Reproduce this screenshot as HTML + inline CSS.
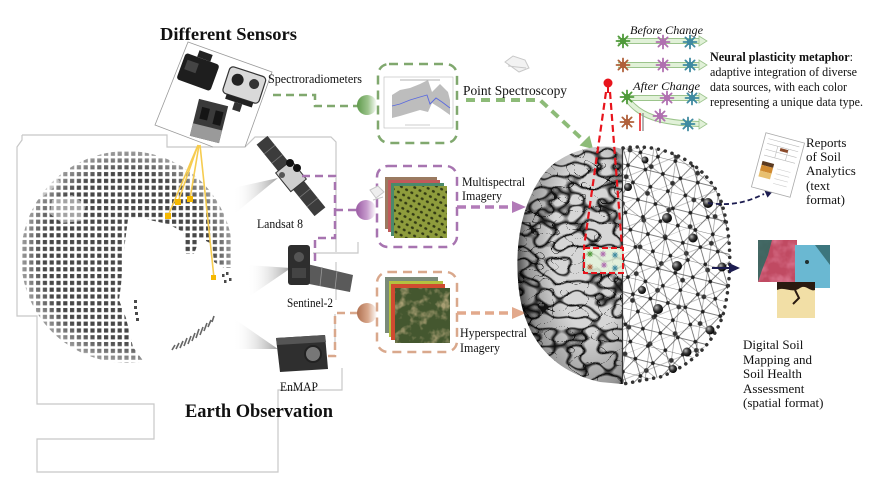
<!DOCTYPE html>
<html><head><meta charset="utf-8">
<style>
html,body{margin:0;padding:0;background:#fff;}
svg{display:block;}
text{font-family:"Liberation Serif","Times New Roman",serif;fill:#111;}
</style></head><body>
<svg width="881" height="484" viewBox="0 0 881 484" xmlns="http://www.w3.org/2000/svg">
<defs>
  <pattern id="gd" width="6.8" height="6.8" patternUnits="userSpaceOnUse" x="1" y="1">
    <rect x="1" y="1" width="4.2" height="4.2" fill="#474747"/>
  </pattern>
  <clipPath id="gc"><circle cx="127" cy="257" r="106"/></clipPath>
  <radialGradient id="gfade" cx="127" cy="257" r="106" gradientUnits="userSpaceOnUse">
    <stop offset="0" stop-color="#fff"/><stop offset="0.8" stop-color="#fff"/><stop offset="1" stop-color="#888"/>
  </radialGradient>
  <mask id="gm"><circle cx="127" cy="257" r="106" fill="url(#gfade)"/></mask>

  <linearGradient id="cone" x1="0" y1="0" x2="1" y2="0">
    <stop offset="0" stop-color="#fff" stop-opacity="0"/><stop offset="1" stop-color="#8a8a8a"/>
  </linearGradient>

  <linearGradient id="cg" x1="0" y1="0" x2="1" y2="0"><stop offset="0" stop-color="#5f9a4c"/><stop offset="0.55" stop-color="#9cc48c"/><stop offset="1" stop-color="#fff"/></linearGradient>
  <linearGradient id="cp" x1="0" y1="0" x2="1" y2="0"><stop offset="0" stop-color="#9a5aa3"/><stop offset="0.55" stop-color="#c79ccd"/><stop offset="1" stop-color="#fff"/></linearGradient>
  <linearGradient id="co" x1="0" y1="0" x2="1" y2="0"><stop offset="0" stop-color="#b07050"/><stop offset="0.55" stop-color="#d9a88c"/><stop offset="1" stop-color="#fff"/></linearGradient>

  <clipPath id="brL"><path d="M622,149 C600,142 565,150 545,172 C523,200 515,240 518,280 C521,330 546,370 600,382 L622,384 Z"/></clipPath>
  <clipPath id="brR"><path d="M623,148 C665,142 705,163 720,198 C733,235 732,280 723,315 C713,345 690,366 660,377 L623,384 Z"/></clipPath>

  <filter id="bf" filterUnits="userSpaceOnUse" x="510" y="140" width="120" height="250" color-interpolation-filters="sRGB">
    <feTurbulence type="turbulence" baseFrequency="0.065 0.085" numOctaves="1" seed="11"/>
    <feColorMatrix type="matrix" values="5.5 0 0 0 0.1  5.5 0 0 0 0.1  5.5 0 0 0 0.1  0 0 0 0 1"/>
    <feComponentTransfer>
      <feFuncR type="linear" slope="0.84"/><feFuncG type="linear" slope="0.84"/><feFuncB type="linear" slope="0.84"/>
    </feComponentTransfer>
  </filter>
  <radialGradient id="bsh" cx="0.7" cy="0.42" r="0.72">
    <stop offset="0.5" stop-color="#000" stop-opacity="0"/>
    <stop offset="0.85" stop-color="#000" stop-opacity="0.3"/>
    <stop offset="1" stop-color="#000" stop-opacity="0.7"/>
  </radialGradient>

  <pattern id="net1" width="18" height="31" patternUnits="userSpaceOnUse" patternTransform="translate(623 148) rotate(14)">
    <path d="M0,0H18M0,15.5H18M0,0L18,31M18,0L0,31" stroke="#555" stroke-width="0.7" fill="none"/>
    <circle cx="0" cy="0" r="1.9" fill="#222"/><circle cx="18" cy="0" r="1.9" fill="#222"/>
    <circle cx="0" cy="31" r="1.9" fill="#222"/><circle cx="18" cy="31" r="1.9" fill="#222"/>
    <circle cx="9" cy="15.5" r="1.9" fill="#222"/>
  </pattern>
  <pattern id="net2" width="27" height="46.8" patternUnits="userSpaceOnUse" patternTransform="translate(630 150) rotate(-22)">
    <path d="M0,0H27M0,23.4H27M0,0L27,46.8M27,0L0,46.8" stroke="#888" stroke-width="0.6" fill="none"/>
    <circle cx="13.5" cy="23.4" r="2.4" fill="#333"/>
    <circle cx="0" cy="0" r="2.4" fill="#333"/><circle cx="27" cy="0" r="2.4" fill="#333"/>
    <circle cx="0" cy="46.8" r="2.4" fill="#333"/><circle cx="27" cy="46.8" r="2.4" fill="#333"/>
  </pattern>
  <radialGradient id="sph" cx="0.35" cy="0.35" r="0.7"><stop offset="0" stop-color="#bbb"/><stop offset="0.5" stop-color="#333"/><stop offset="1" stop-color="#000"/></radialGradient>

  <pattern id="orch" width="6" height="6" patternUnits="userSpaceOnUse" patternTransform="rotate(30)">
    <rect width="6" height="6" fill="#8e9c3c"/><ellipse cx="3" cy="3" rx="1.6" ry="1.3" fill="#323a14"/>
  </pattern>
  <filter id="hf" x="0" y="0" width="1" height="1" color-interpolation-filters="sRGB">
    <feTurbulence type="fractalNoise" baseFrequency="0.1" numOctaves="3" seed="4"/>
    <feColorMatrix type="matrix" values="0 0 0 0 0.66  0 0 0 0 0.62  0 0 0 0 0.45  3.2 0 0 0 -1.6"/>
  </filter>
  <filter id="mf1" x="0" y="0" width="1" height="1" color-interpolation-filters="sRGB">
    <feTurbulence type="fractalNoise" baseFrequency="0.08" numOctaves="3" seed="9"/>
    <feColorMatrix type="matrix" values="0 0 0 0 0.85  0 0 0 0 0.45  0 0 0 0 0.55  2.5 0 0 0 -1.0"/>
  </filter>

  <g id="nr" fill="currentColor" stroke="currentColor">
    <circle r="3.2" stroke="none"/>
    <path d="M0,-6.5V6.5M-6.5,0H6.5M-4.6,-4.6L4.6,4.6M-4.6,4.6L4.6,-4.6" stroke-width="1.8" stroke-linecap="round" fill="none"/>
  </g>
</defs>

<rect width="881" height="484" fill="#fff"/>

<!-- frame outline -->
<path d="M22,135 H167 V147 H213 M245,147 L255,137 H331 L336,142 V252 M313,253 H358 V242 M336,262 V300 M335,314 V350 M342,368 V390 H278 V472 H37 V439 H154 V404 H37 V316 H17 V147 L22,140 V135" fill="none" stroke="#c8c8c8" stroke-width="1.2"/>

<!-- globe -->
<g clip-path="url(#gc)" mask="url(#gm)">
  <rect x="20" y="150" width="215" height="215" fill="url(#gd)"/>
  <polygon fill="#fff" points="140,218 168,224 183,232 186,254 194,254 200,238 212,244 214,262 224,268 245,268 245,370 150,370 133,347 126,318 119,300 121,285 124,250 128,219"/>
  <polygon fill="#fff" opacity="0.5" points="52,200 72,195 86,205 82,221 62,223 50,214"/>
  <polygon fill="#fff" opacity="0.45" points="25,178 50,168 60,182 45,195 30,205"/>
</g>
<g fill="#4a4a4a">
  <rect x="134" y="306" width="3" height="3"/><rect x="135" y="312" width="3" height="3"/><rect x="136" y="318" width="3" height="3"/><rect x="134" y="300" width="3" height="3"/>
  <rect x="222" y="274" width="2.5" height="3"/><rect x="226" y="272" width="2.5" height="3"/><rect x="224" y="280" width="2.5" height="3"/><rect x="229" y="278" width="2.5" height="3"/>
</g>
<path d="M172,350 l3,-5 M176,349 l3,-6 M180,348 l3,-7 M184,346 l3,-8 M188,344 l3,-8 M192,341 l3,-8 M196,338 l3,-9 M200,335 l3,-8 M204,331 l3,-8 M208,327 l3,-7 M212,322 l2,-6" stroke="#666" stroke-width="1.6"/>

<!-- cones -->
<polygon points="233,188 278,178 233,215" fill="url(#cone)" opacity="0.8"/>
<polygon points="247,265 291,268 250,296" fill="url(#cone)" opacity="0.8"/>
<polygon points="233,318 278,349 233,349" fill="url(#cone)" opacity="0.8"/>

<!-- sensor box -->
<polygon points="188,42 272,72 245,147 213,147 155,125" fill="#fff" stroke="#9a9a9a" stroke-width="0.8"/>
<g transform="translate(198,72) rotate(20)">
  <rect x="-18" y="-14" width="36" height="28" rx="3" fill="#1e1e1e"/>
  <rect x="-6" y="-21" width="14" height="7" fill="#222"/>
  <rect x="-14" y="-8" width="12" height="10" fill="#444"/>
</g>
<g transform="translate(244,86) rotate(18)">
  <rect x="-19" y="-15" width="38" height="28" rx="4" fill="#d9d9d9" stroke="#333" stroke-width="1.2"/>
  <circle cx="-8" cy="-4" r="6" fill="#222"/><circle cx="9" cy="-5" r="5" fill="#333"/>
  <rect x="-14" y="13" width="28" height="5" fill="#222"/>
  <rect x="-4" y="18" width="8" height="8" fill="#333"/>
</g>
<g transform="translate(209,121) rotate(14)">
  <rect x="-15" y="-19" width="30" height="38" fill="#3a3a3a"/>
  <rect x="-15" y="6" width="30" height="13" fill="#9a9a9a"/>
  <rect x="-10" y="-12" width="8" height="12" fill="#151515"/>
  <rect x="4" y="-12" width="8" height="14" fill="#151515"/>
</g>

<!-- yellow lines -->
<g stroke="#f6cc50" stroke-width="1.6" fill="none">
  <path d="M198,145 L168,216 M198,145 L178,202 M199,145 L190,199 M200,145 L214,278"/>
</g>
<g fill="#f5b800">
  <rect x="165" y="213" width="6" height="6"/><rect x="175" y="199" width="6" height="6"/>
  <rect x="187" y="196" width="6" height="6"/><rect x="211" y="275" width="5" height="5"/>
</g>

<!-- Landsat 8 -->
<g transform="translate(291,176) rotate(51)">
  <rect x="-46" y="-7" width="92" height="14" fill="#3c3c3c"/>
  <path d="M-34,-7V7M-22,-7V7M22,-7V7M34,-7V7" stroke="#777" stroke-width="0.8"/>
  <rect x="-12" y="-10" width="24" height="20" fill="#cfcfcf" stroke="#333" stroke-width="1"/>
</g>
<circle cx="290" cy="163" r="4" fill="#111"/><circle cx="297" cy="168" r="4" fill="#111"/>
<circle cx="282" cy="175" r="3" fill="#555"/>

<!-- Sentinel-2 -->
<polygon points="307,264 353,275 350,292 304,283" fill="#5a5a5a"/>
<path d="M322,267 L320,286 M337,271 L335,289" stroke="#999" stroke-width="0.8"/>
<rect x="288" y="245" width="22" height="40" rx="3" fill="#2e2e2e"/>
<circle cx="299" cy="257" r="5" fill="#555"/><rect x="292" y="268" width="14" height="10" fill="#444"/>

<!-- EnMAP -->
<polygon points="276,338 325,335 328,369 280,372" fill="#2f2f2f"/>
<polygon points="276,338 325,335 326,342 277,345" fill="#555"/>
<circle cx="313" cy="354" r="8" fill="#777" stroke="#222" stroke-width="2"/>

<!-- connectors from sensors -->
<path d="M273,95 H315 V106 H358" fill="none" stroke="#80a86e" stroke-width="2.5" stroke-dasharray="8 5"/>
<path d="M302,176 H335 V238 H315 V262 M335,210 H358" fill="none" stroke="#a774b0" stroke-width="2.5" stroke-dasharray="8 5"/>
<path d="M328,356 H335 V313 H358" fill="none" stroke="#d9a88c" stroke-width="2.5" stroke-dasharray="8 5"/>
<circle cx="367" cy="105" r="10" fill="url(#cg)"/>
<circle cx="366" cy="210" r="10" fill="url(#cp)"/>
<circle cx="367" cy="313" r="10" fill="url(#co)"/>

<!-- boxes -->
<rect x="378" y="64" width="79" height="79" rx="11" fill="none" stroke="#80a86e" stroke-width="2.5" stroke-dasharray="9 6"/>
<rect x="377" y="166" width="80" height="81" rx="11" fill="none" stroke="#a774b0" stroke-width="2.5" stroke-dasharray="9 6"/>
<rect x="377" y="272" width="80" height="80" rx="11" fill="none" stroke="#d9a88c" stroke-width="2.5" stroke-dasharray="9 6"/>

<!-- chart -->
<rect x="384" y="77" width="69" height="51" fill="#fff" stroke="#bbb" stroke-width="0.6"/>
<line x1="400" y1="80" x2="440" y2="80" stroke="#999" stroke-width="0.8"/>
<polygon points="392,95 400,90 410,88 420,84 428,80 432,92 440,84 448,92 450,100 450,115 440,108 432,103 428,112 420,110 410,113 400,116 392,118" fill="#bdbdbd"/>
<polyline points="392,106 400,104 410,100 420,97 427,95 430,104 436,98 442,102 450,108" fill="none" stroke="#5a6adf" stroke-width="0.9"/>
<line x1="405" y1="125" x2="430" y2="125" stroke="#999" stroke-width="0.6"/>

<!-- multispectral stack -->
<rect x="385" y="177" width="52" height="52" fill="#9a7a60"/>
<rect x="388" y="180" width="52" height="52" fill="#c05a5a"/>
<rect x="391" y="183" width="53" height="53" fill="#4a8a6a"/>
<rect x="394" y="186" width="53" height="52" fill="url(#orch)"/>
<path d="M370,190 l8,-4 l6,6 l-8,6 z M373,200 l10,-3" stroke="#c8c8c8" stroke-width="1" fill="#eee"/>

<!-- hyperspectral stack -->
<rect x="385" y="277" width="53" height="56" fill="#7a8a78"/>
<rect x="389" y="281" width="54" height="56" fill="#b4c040"/>
<rect x="391" y="284" width="54" height="56" fill="#d04a30"/>
<rect x="395" y="288" width="55" height="55" fill="#44572f"/>
<rect x="395" y="288" width="55" height="55" fill="#fff" filter="url(#hf)"/>

<!-- arrows to brain -->
<path d="M466,100 H540 L582,139" fill="none" stroke="#8dbb78" stroke-width="4" stroke-dasharray="9 6"/>
<polygon points="593,149 579.5,145.5 589.5,135.5" fill="#8dbb78"/>
<path d="M457,207 H513" stroke="#b27bb8" stroke-width="3.5" stroke-dasharray="9 5"/>
<polygon points="526,207 512,201 512,213" fill="#b27bb8"/>
<path d="M457,313 H513" stroke="#e2a98c" stroke-width="3.5" stroke-dasharray="9 5"/>
<polygon points="526,313 512,307 512,319" fill="#e2a98c"/>
<path d="M505,62 l8,-6 l12,4 l4,8 l-10,4 z M508,66 l18,2" stroke="#c8c8c8" stroke-width="1" fill="#f2f2f2"/>

<!-- brain left -->
<rect x="510" y="140" width="120" height="250" fill="#999" filter="url(#bf)" clip-path="url(#brL)"/>
<path d="M622,149 C600,142 565,150 545,172 C523,200 515,240 518,280 C521,330 546,370 600,382 L622,384 Z" fill="url(#bsh)"/>
<!-- brain right network -->
<g clip-path="url(#brR)">
  <rect x="620" y="140" width="120" height="250" fill="url(#net2)"/>
  <rect x="620" y="140" width="120" height="250" fill="url(#net1)"/>
</g>
<path d="M623,148 C665,142 705,163 720,198 C733,235 732,280 723,315 C713,345 690,366 660,377 L623,384" fill="none" stroke="#333" stroke-width="3.5" stroke-dasharray="0.1 7" stroke-linecap="round"/>
<line x1="622.5" y1="148" x2="622.5" y2="384" stroke="#333" stroke-width="1.2"/>
<g fill="url(#sph)">
  <circle cx="628" cy="187" r="4"/><circle cx="667" cy="218" r="5"/><circle cx="693" cy="238" r="4.5"/>
  <circle cx="708" cy="203" r="5"/><circle cx="677" cy="266" r="5"/><circle cx="722" cy="267" r="4.5"/>
  <circle cx="658" cy="309" r="5"/><circle cx="687" cy="352" r="4.5"/><circle cx="673" cy="369" r="4"/>
  <circle cx="642" cy="290" r="4"/><circle cx="710" cy="330" r="4.5"/><circle cx="645" cy="160" r="3.5"/>
</g>

<!-- red callout -->
<rect x="584" y="248" width="39" height="25" fill="#e4f4dc" opacity="0.85"/>
<g transform="translate(590,254) scale(0.45)" style="color:#4f9a3a"><use href="#nr"/></g>
<g transform="translate(603,254) scale(0.45)" style="color:#b070b0"><use href="#nr"/></g>
<g transform="translate(615,255) scale(0.45)" style="color:#3f8aa0"><use href="#nr"/></g>
<g transform="translate(590,267) scale(0.45)" style="color:#b0603a"><use href="#nr"/></g>
<g transform="translate(604,265) scale(0.45)" style="color:#b070b0"><use href="#nr"/></g>
<g transform="translate(615,268) scale(0.45)" style="color:#3f8aa0"><use href="#nr"/></g>
<rect x="584" y="248" width="39" height="25" fill="none" stroke="#e8141c" stroke-width="2" stroke-dasharray="6 3"/>
<path d="M606,92 L584,247 M610,92 L622,247" stroke="#e8141c" stroke-width="2.2" stroke-dasharray="7 4" fill="none"/>
<line x1="608" y1="84" x2="608" y2="93" stroke="#e8141c" stroke-width="2"/>
<circle cx="608" cy="83" r="4.5" fill="#e8141c"/>

<!-- neural plasticity diagram -->
<g fill="none" stroke-linecap="butt">
  <path d="M618,41 H700 M618,65 H700 M627,98 H700 M628,100 C640,116 660,123 700,124" stroke="#9cc48c" stroke-width="6"/>
  <path d="M618,41 H700 M618,65 H700 M627,98 H700 M628,100 C640,116 660,123 700,124" stroke="#e1f1d8" stroke-width="4"/>
</g>
<g fill="#e1f1d8" stroke="#9cc48c" stroke-width="0.8">
  <polygon points="707,41 699,36 699,46"/><polygon points="707,65 699,60 699,70"/>
  <polygon points="707,98 699,93 699,103"/><polygon points="707,124 699,119 699,129"/>
</g>
<g transform="translate(623,41)" style="color:#4f9a3a"><use href="#nr"/></g>
<g transform="translate(663,42)" style="color:#b070b0"><use href="#nr"/></g>
<g transform="translate(690,42)" style="color:#3f8aa0"><use href="#nr"/></g>
<g transform="translate(623,65)" style="color:#b0603a"><use href="#nr"/></g>
<g transform="translate(663,65)" style="color:#b070b0"><use href="#nr"/></g>
<g transform="translate(690,65)" style="color:#3f8aa0"><use href="#nr"/></g>
<g transform="translate(627,97)" style="color:#4f9a3a"><use href="#nr"/></g>
<g transform="translate(667,98)" style="color:#b070b0"><use href="#nr"/></g>
<g transform="translate(692,98)" style="color:#3f8aa0"><use href="#nr"/></g>
<g transform="translate(627,122)" style="color:#b0603a"><use href="#nr"/></g>
<g transform="translate(660,116)" style="color:#b070b0"><use href="#nr"/></g>
<g transform="translate(688,124)" style="color:#3f8aa0"><use href="#nr"/></g>
<line x1="640" y1="113" x2="640" y2="131" stroke="#e8141c" stroke-width="1.5"/>
<line x1="643" y1="113" x2="643" y2="131" stroke="#999" stroke-width="1.5"/>

<!-- outputs -->
<path d="M708,203 C730,206 745,203 764,194" fill="none" stroke="#1c1c50" stroke-width="1.8" stroke-dasharray="5 3"/>
<polygon points="774,190 767.5,197.6 764,189.4" fill="#1c1c50"/>
<line x1="712" y1="268" x2="730" y2="268" stroke="#1c1c50" stroke-width="2"/>
<polygon points="740,268 729,263 729,273" fill="#1c1c50"/>

<!-- report doc -->
<g transform="translate(778,165) rotate(15)">
  <rect x="-20" y="-28" width="40" height="56" fill="#fff" stroke="#aaa" stroke-width="0.8"/>
  <path d="M-16,-23 H16 M-16,-18 H16 M-16,-12 H16 M-16,-6 H16 M-5,-18 V-6 M6,-18 V-6" stroke="#bbb" stroke-width="0.6"/>
  <rect x="-2" y="-17" width="8" height="3" fill="#8a4a2a"/>
  <rect x="-16" y="0" width="12" height="4" fill="#5a3a20"/>
  <rect x="-16" y="4" width="12" height="6" fill="#d08a30"/>
  <rect x="-16" y="10" width="12" height="6" fill="#e8c070"/>
  <path d="M0,4 H14 M0,9 H14 M0,14 H14 M0,19 H14" stroke="#ccc" stroke-width="0.6"/>
</g>

<!-- maps -->
<rect x="758" y="240" width="39" height="42" fill="#c04a62"/>
<rect x="758" y="240" width="39" height="42" fill="#fff" filter="url(#mf1)"/>
<polygon points="758,240 772,240 768,255 762,270 758,282" fill="#2a6a60" opacity="0.85"/>
<rect x="795" y="245" width="35" height="43" fill="#6ab8d2"/>
<polygon points="815,245 830,245 830,265" fill="#2a5a5a" opacity="0.7"/>
<circle cx="807" cy="262" r="2" fill="#203030"/>
<rect x="777" y="282" width="38" height="36" fill="#f2dfa6"/>
<path d="M777,290 C785,286 792,294 800,288 C806,284 810,292 815,290 L815,282 H777 Z" fill="#2a1a10"/>
<path d="M795,290 l4,8 l-6,6" stroke="#2a1a10" stroke-width="2" fill="none"/>

<!-- text -->
<text x="160" y="40" font-size="18" font-weight="bold" textLength="137" lengthAdjust="spacingAndGlyphs">Different Sensors</text>
<text x="268" y="83" font-size="12.5" textLength="94" lengthAdjust="spacingAndGlyphs">Spectroradiometers</text>
<text x="257" y="228" font-size="13" textLength="46" lengthAdjust="spacingAndGlyphs">Landsat 8</text>
<text x="287" y="307" font-size="13" textLength="46" lengthAdjust="spacingAndGlyphs">Sentinel-2</text>
<text x="280" y="391" font-size="13" textLength="38" lengthAdjust="spacingAndGlyphs">EnMAP</text>
<text x="185" y="417" font-size="18.5" font-weight="bold" textLength="148" lengthAdjust="spacingAndGlyphs">Earth Observation</text>
<text x="463" y="95" font-size="14" textLength="104" lengthAdjust="spacingAndGlyphs">Point Spectroscopy</text>
<text x="462" y="186" font-size="12.5" textLength="63" lengthAdjust="spacingAndGlyphs">Multispectral</text>
<text x="462" y="200" font-size="12.5" textLength="40" lengthAdjust="spacingAndGlyphs">Imagery</text>
<text x="460" y="337" font-size="12.5" textLength="67" lengthAdjust="spacingAndGlyphs">Hyperspectral</text>
<text x="460" y="352" font-size="12.5" textLength="40" lengthAdjust="spacingAndGlyphs">Imagery</text>
<text x="630" y="34" font-size="12" font-style="italic" textLength="73" lengthAdjust="spacingAndGlyphs">Before Change</text>
<text x="633" y="90" font-size="12" font-style="italic" textLength="67" lengthAdjust="spacingAndGlyphs">After Change</text>
<text x="710" y="61" font-size="12.5" textLength="143" lengthAdjust="spacingAndGlyphs"><tspan font-weight="bold">Neural plasticity metaphor</tspan>:</text>
<text x="710" y="76" font-size="12.5" textLength="147" lengthAdjust="spacingAndGlyphs">adaptive integration  of diverse</text>
<text x="710" y="91" font-size="12.5" textLength="137" lengthAdjust="spacingAndGlyphs">data sources, with each color</text>
<text x="710" y="106" font-size="12.5" textLength="153" lengthAdjust="spacingAndGlyphs">representing a unique data type.</text>
<text font-size="13">
  <tspan x="806" y="147">Reports</tspan>
  <tspan x="806" y="161">of Soil</tspan>
  <tspan x="806" y="175">Analytics</tspan>
  <tspan x="806" y="190">(text</tspan>
  <tspan x="806" y="204">format)</tspan>
</text>
<text font-size="13">
  <tspan x="743" y="349">Digital  Soil</tspan>
  <tspan x="743" y="364">Mapping and</tspan>
  <tspan x="743" y="378">Soil Health</tspan>
  <tspan x="743" y="393">Assessment</tspan>
  <tspan x="743" y="407">(spatial format)</tspan>
</text>
</svg>
</body></html>
